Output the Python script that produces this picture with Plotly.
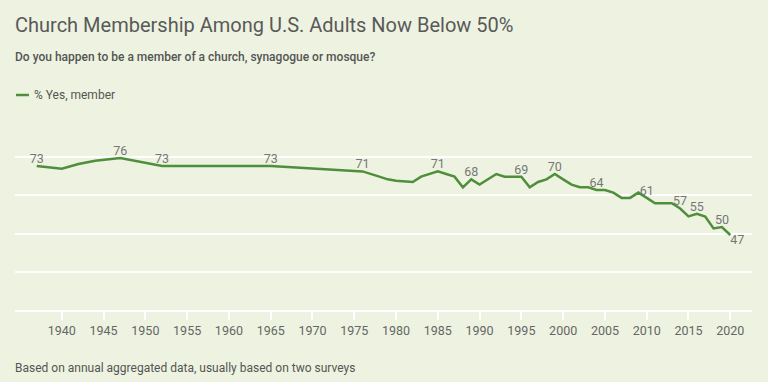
import plotly.graph_objects as go

# ---- data ----
years = [1937, 1940, 1942, 1944, 1947, 1952, 1965, 1976, 1978, 1979, 1980, 1981,
         1982, 1983, 1984, 1985, 1986, 1987, 1988, 1989, 1990, 1991, 1992, 1993,
         1994, 1995, 1996, 1997, 1998, 1999, 2000, 2001, 2002, 2003, 2004, 2005,
         2006, 2007, 2008, 2009, 2010, 2011, 2012, 2013, 2014, 2015, 2016, 2017,
         2018, 2019, 2020]
members = [73, 72, 73.8, 75, 76, 73, 73, 71, 69, 68, 67.5, 67.2,
           67, 69, 70, 71, 70, 69, 65, 68, 66, 68, 70, 69,
           69, 69, 65, 67, 68, 70, 68, 66, 65, 65, 64, 64,
           63, 61, 61, 63, 61, 59, 59, 59, 57, 54, 55, 54,
           49.5, 50, 47]
label_years = [1937, 1947, 1952, 1965, 1976, 1985, 1989, 1995, 1999, 2004,
               2010, 2014, 2016, 2019, 2020]
tick_years = list(range(1940, 2021, 5))

series_name = "% Yes, member"
title = "Church Membership Among U.S. Adults Now Below 50%"
subtitle = "Do you happen to be a member of a church, synagogue or mosque?"
footer = "Based on annual aggregated data, usually based on two surveys"

# ---- styling ----
W, H = 768, 382
L, R, T, B = 15, 16, 147, 72
BG = "#edf3e0"
GREEN = "#4f8e3b"
FONT = "Roboto"

lookup = dict(zip(years, members))
label_vals = [lookup[y] for y in label_years]
label_text = [str(round(v)) for v in label_vals]
label_pos = ["top center"] * (len(label_years) - 1) + ["bottom right"]

fig = go.Figure()
fig.add_trace(go.Scatter(
    x=years, y=members, mode="lines", name=series_name,
    line=dict(color=GREEN, width=2.5), hoverinfo="x+y", showlegend=False,
))
fig.add_trace(go.Scatter(
    x=label_years, y=label_vals, mode="text", text=label_text,
    textposition=label_pos, textfont=dict(family=FONT, size=12.5, color="#777777"),
    showlegend=False, hoverinfo="skip", cliponaxis=False,
))


def px_to_paper(px, py):
    return (px - L) / (W - L - R), (H - B - py) / (H - T - B)


def text_at(px, py, s, size, color, xanchor="left", weight=None):
    x, y = px_to_paper(px, py)
    fnt = dict(family=FONT, size=size, color=color)
    if weight:
        fnt["weight"] = weight
    fig.add_annotation(x=x, y=y, xref="paper", yref="paper", text=s,
                       showarrow=False, xanchor=xanchor, yanchor="middle",
                       font=fnt)


text_at(13, 25, title, 20, "#595959")
text_at(13, 57, subtitle, 12, "#555555", weight=500)
text_at(32, 95, series_name, 12, "#555555")
text_at(13, 368, footer, 12, "#555555")

lx0, ly = px_to_paper(16, 95)
lx1, _ = px_to_paper(29, 95)
fig.add_shape(type="line", xref="paper", yref="paper", x0=lx0, x1=lx1, y0=ly, y1=ly,
              line=dict(color=GREEN, width=2.5))

fig.update_layout(
    width=W, height=H,
    margin=dict(l=L, r=R, t=T, b=B),
    paper_bgcolor=BG, plot_bgcolor=BG,
    font=dict(family=FONT, color="#666666"),
    xaxis=dict(range=[1934.4, 2022.6], tickvals=tick_years,
               ticks="outside", ticklen=8, tickcolor="white", tickwidth=1.5,
               showgrid=False, zeroline=False,
               showline=True, linecolor="white", linewidth=2,
               tickfont=dict(family=FONT, size=12.5, color="#666666")),
    yaxis=dict(range=[18.7, 80.2], tick0=18.7, dtick=14.43,
               showticklabels=False, showgrid=True, gridcolor="white",
               gridwidth=2, zeroline=False, showline=False),
)

fig.write_html("out.html", config={"displayModeBar": False},
               post_script="document.body.style.margin='0';")
